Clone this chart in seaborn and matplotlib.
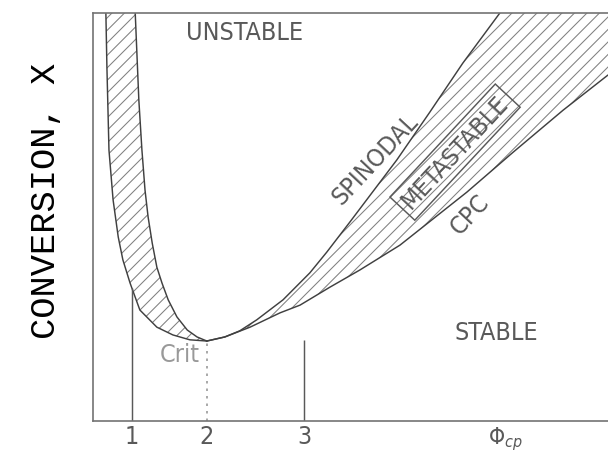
import numpy as np
import matplotlib
matplotlib.use("Agg")
import matplotlib.pyplot as plt
import seaborn as sns

# =====================
# DATA (axes scaled 0..1)
# =====================
# left branch of the spinodal / CPC curves (top -> critical point)
spin_left_x = [0.025, 0.027, 0.031, 0.039, 0.049, 0.058, 0.072, 0.091, 0.124, 0.155, 0.188, 0.221]
spin_left_y = [1.000, 0.868, 0.664, 0.542, 0.451, 0.395, 0.338, 0.272, 0.230, 0.211, 0.199, 0.196]
cpc_left_x = [0.082, 0.089, 0.095, 0.101, 0.107, 0.115, 0.124, 0.134, 0.146, 0.163, 0.183, 0.202, 0.221]
cpc_left_y = [1.000, 0.787, 0.664, 0.566, 0.500, 0.436, 0.377, 0.338, 0.297, 0.255, 0.223, 0.206, 0.196]

# right branch (critical point -> top / right edge)
spin_right_x = [0.221, 0.256, 0.285, 0.318, 0.369, 0.421, 0.454, 0.499, 0.590, 0.654, 0.718, 0.790]
spin_right_y = [0.196, 0.206, 0.221, 0.248, 0.297, 0.363, 0.414, 0.488, 0.640, 0.757, 0.877, 1.000]
cpc_right_x = [0.221, 0.256, 0.305, 0.363, 0.402, 0.460, 0.518, 0.596, 0.726, 0.816, 0.913, 1.000]
cpc_right_y = [0.196, 0.206, 0.230, 0.265, 0.284, 0.328, 0.370, 0.431, 0.561, 0.659, 0.762, 0.848]

tick_pos = [0.076, 0.221, 0.410, 0.800]
tick_labels = ["1", "2", "3", r"$\Phi_{cp}$"]
# height of the marker lines above ticks 1, 2, 3
marker_top = [0.326, 0.196, 0.199]

# =====================
# STYLE
# =====================
sns.set_style("white")
plt.rcParams["font.family"] = ["DejaVu Sans"]
plt.rcParams["font.stretch"] = "condensed"
plt.rcParams["mathtext.fontset"] = "dejavusans"
plt.rcParams["hatch.linewidth"] = 0.5

dpi = 150
fig = plt.figure(figsize=(608 / dpi, 455 / dpi), dpi=dpi)
ax = fig.add_axes([93 / 608, 34 / 455, 515 / 608, 408 / 455])
ax.set_xlim(0, 1)
ax.set_ylim(0, 1)

# =====================
# HATCHED REGIONS
# =====================
ax.fill(spin_left_x + cpc_left_x[::-1], spin_left_y + cpc_left_y[::-1],
        facecolor="none", edgecolor="0.5", linewidth=0, hatch="////")
xmax, ymax = ax.get_xlim()[1], ax.get_ylim()[1]
ax.fill(spin_right_x + [xmax] + cpc_right_x[::-1],
        spin_right_y + [ymax] + cpc_right_y[::-1],
        facecolor="none", edgecolor="0.5", linewidth=0, hatch="////")

# =====================
# CURVES
# =====================
for xs, ys in [(spin_left_x, spin_left_y), (cpc_left_x, cpc_left_y),
               (spin_right_x, spin_right_y), (cpc_right_x, cpc_right_y)]:
    sns.lineplot(x=xs, y=ys, ax=ax, color="0.25", linewidth=0.7, sort=False,
                 estimator=None)

# marker lines above ticks
ax.vlines(tick_pos[0], 0, marker_top[0], color="0.35", linewidth=0.7)
ax.vlines(tick_pos[1], 0, marker_top[1], color="0.6", linewidth=0.8, linestyles=(0, (1.5, 3)))
ax.vlines(tick_pos[2], 0, marker_top[2], color="0.35", linewidth=0.7)

# =====================
# LABELS
# =====================
txt = dict(color="0.35", fontsize=12, ha="center", va="center", fontweight="light")
ax.text(0.295, 0.951, "UNSTABLE", **txt)
ax.text(0.784, 0.216, "STABLE", **txt)
ax.text(0.169, 0.162, "Crit", color="0.6", fontsize=12, ha="center", va="center")
ax.text(0.548, 0.640, "SPINODAL", rotation=47, **txt)
ax.text(0.732, 0.505, "CPC", rotation=47, **txt)
ax.text(0.703, 0.659, "METASTABLE", rotation=47, **txt,
        bbox=dict(boxstyle="square,pad=0.2", fc="none", ec="0.35", lw=0.7))

ax.set_xticks(tick_pos)
ax.set_xticklabels(tick_labels, color="0.35", fontsize=12)
ax.get_xticklabels()[3].set_fontsize(11)
ax.set_yticks([])
ax.tick_params(axis="x", length=0, pad=2)
ax.set_ylabel("CONVERSION, X", family="Liberation Mono", fontsize=17,
              color="black")
ax.yaxis.set_label_coords(-0.06, 0.54)

for side in ["left", "top", "bottom"]:
    ax.spines[side].set_color("0.45")
    ax.spines[side].set_linewidth(0.8)
ax.spines["right"].set_visible(False)

fig.savefig("out.png", dpi=dpi)
